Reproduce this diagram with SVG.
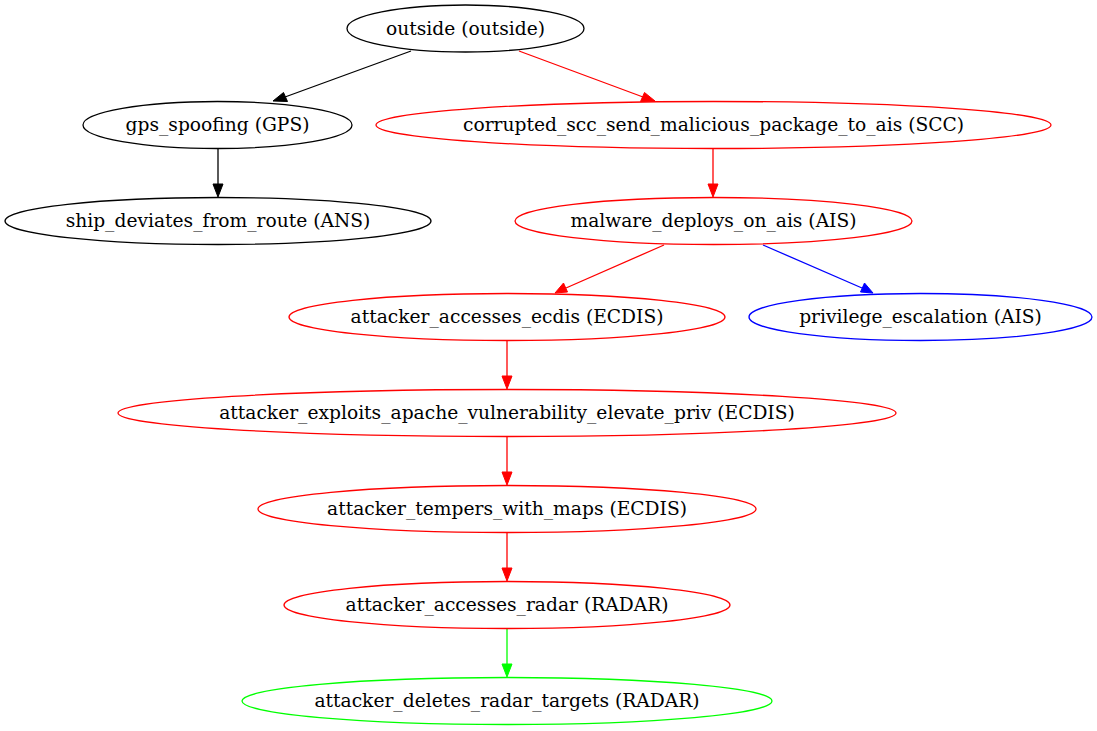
<svg xmlns="http://www.w3.org/2000/svg" width="1097" height="731" viewBox="0 0 1097 731">
<style>
  .node ellipse { fill: none; stroke-width: 1.3; }
  .node text { font-family: "DejaVu Serif", "Liberation Serif", serif; font-size: 18.67px; text-anchor: middle; fill: #000; }
  .edge { fill: none; stroke-width: 1.3; }
  .k { stroke: #000; } .r { stroke: #f00; } .b { stroke: #00f; } .g { stroke: #0f0; }
  .kf { fill: #000; stroke: #000; } .rf { fill: #f00; stroke: #f00; } .bf { fill: #00f; stroke: #00f; } .gf { fill: #0f0; stroke: #0f0; }
</style>
<rect width="1097" height="731" fill="#fff"/>
<g id="connectors">
  <path class="edge k" d="M411,51 L285,97"/><polygon class="kf" points="273,101 283.5,92.5 287.5,101.5"/>
  <path class="edge r" d="M519,51 L643,97"/><polygon class="rf" points="655,101 640.5,101.5 644.5,92.5"/>
  <path class="edge k" d="M218,149 L218,185"/><polygon class="kf" points="218,197 213,184 223,184"/>
  <path class="edge r" d="M713,149 L713,185"/><polygon class="rf" points="713,197 708,184 718,184"/>
  <path class="edge r" d="M664,245 L566,288"/><polygon class="rf" points="555,293 563.5,283 567.5,292"/>
  <path class="edge b" d="M763,245 L862,288"/><polygon class="bf" points="873,293 860.5,292 864.5,283"/>
  <path class="edge r" d="M507,341 L507,377"/><polygon class="rf" points="507,389 502,376 512,376"/>
  <path class="edge r" d="M507,437 L507,473"/><polygon class="rf" points="507,485 502,472 512,472"/>
  <path class="edge r" d="M507,533 L507,569"/><polygon class="rf" points="507,581 502,568 512,568"/>
  <path class="edge g" d="M507,629 L507,665"/><polygon class="gf" points="507,677 502,664 512,664"/>
</g>
<g id="outside" class="node"><ellipse cx="465.5" cy="28.5" rx="118.5" ry="23.5" stroke="#000"/><text x="465.5" y="34.5">outside (outside)</text></g>
<g id="gps_spoofing" class="node"><ellipse cx="217.5" cy="125" rx="134.5" ry="23.5" stroke="#000"/><text x="217.5" y="131">gps_spoofing (GPS)</text></g>
<g id="corrupted_scc" class="node"><ellipse cx="713.5" cy="125" rx="337.5" ry="23.5" stroke="#f00"/><text x="713.5" y="131">corrupted_scc_send_malicious_package_to_ais (SCC)</text></g>
<g id="ship_deviates" class="node"><ellipse cx="218" cy="221" rx="213" ry="23.5" stroke="#000"/><text x="218" y="227">ship_deviates_from_route (ANS)</text></g>
<g id="malware_deploys" class="node"><ellipse cx="713.5" cy="221" rx="198.5" ry="23.5" stroke="#f00"/><text x="713.5" y="227">malware_deploys_on_ais (AIS)</text></g>
<g id="accesses_ecdis" class="node"><ellipse cx="507" cy="317" rx="218" ry="23.5" stroke="#f00"/><text x="507" y="323">attacker_accesses_ecdis (ECDIS)</text></g>
<g id="privilege_escalation" class="node"><ellipse cx="920.5" cy="317" rx="171.5" ry="23.5" stroke="#00f"/><text x="920.5" y="323">privilege_escalation (AIS)</text></g>
<g id="exploits_apache" class="node"><ellipse cx="507" cy="413" rx="389" ry="23.5" stroke="#f00"/><text x="507" y="419">attacker_exploits_apache_vulnerability_elevate_priv (ECDIS)</text></g>
<g id="tempers_maps" class="node"><ellipse cx="507" cy="509" rx="249" ry="23.5" stroke="#f00"/><text x="507" y="515">attacker_tempers_with_maps (ECDIS)</text></g>
<g id="accesses_radar" class="node"><ellipse cx="507" cy="605" rx="223" ry="23.5" stroke="#f00"/><text x="507" y="611">attacker_accesses_radar (RADAR)</text></g>
<g id="deletes_radar_targets" class="node"><ellipse cx="507" cy="701" rx="265" ry="23.5" stroke="#0f0"/><text x="507" y="707">attacker_deletes_radar_targets (RADAR)</text></g>
</svg>
